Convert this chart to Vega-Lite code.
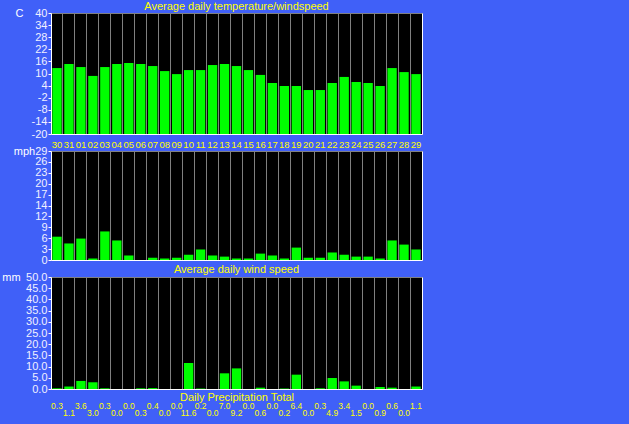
{
  "$schema": "https://vega.github.io/schema/vega-lite/v6.json",
  "background": "#4060F8",
  "autosize": {"type": "pad"},
  "padding": {"left": 1, "top": 0, "right": 207, "bottom": 8},
  "bounds": "flush",
  "spacing": 17,
  "datasets": {
    "w": [
      {"day": "30", "temp": 12.7, "wind": 6.2, "precip": 0.3},
      {"day": "31", "temp": 14.7, "wind": 4.4, "precip": 1.1},
      {"day": "01", "temp": 13.2, "wind": 5.7, "precip": 3.6},
      {"day": "02", "temp": 8.8, "wind": 0.4, "precip": 3.0},
      {"day": "03", "temp": 13.2, "wind": 7.6, "precip": 0.3},
      {"day": "04", "temp": 14.7, "wind": 5.2, "precip": 0.0},
      {"day": "05", "temp": 15.2, "wind": 1.2, "precip": 0.0},
      {"day": "06", "temp": 14.7, "wind": 0.0, "precip": 0.3},
      {"day": "07", "temp": 13.7, "wind": 0.6, "precip": 0.4},
      {"day": "08", "temp": 11.2, "wind": 0.4, "precip": 0.0},
      {"day": "09", "temp": 9.7, "wind": 0.6, "precip": 0.0},
      {"day": "10", "temp": 11.7, "wind": 1.4, "precip": 11.6},
      {"day": "11", "temp": 11.7, "wind": 2.8, "precip": 0.2},
      {"day": "12", "temp": 14.2, "wind": 1.2, "precip": 0.0},
      {"day": "13", "temp": 14.7, "wind": 0.9, "precip": 7.0},
      {"day": "14", "temp": 13.7, "wind": 0.4, "precip": 9.2},
      {"day": "15", "temp": 11.7, "wind": 0.4, "precip": 0.0},
      {"day": "16", "temp": 9.3, "wind": 1.7, "precip": 0.6},
      {"day": "17", "temp": 5.3, "wind": 1.2, "precip": 0.0},
      {"day": "18", "temp": 3.8, "wind": 0.4, "precip": 0.2},
      {"day": "19", "temp": 3.8, "wind": 3.3, "precip": 6.4},
      {"day": "20", "temp": 1.8, "wind": 0.6, "precip": 0.0},
      {"day": "21", "temp": 1.8, "wind": 0.6, "precip": 0.3},
      {"day": "22", "temp": 5.3, "wind": 2.0, "precip": 4.9},
      {"day": "23", "temp": 8.3, "wind": 1.4, "precip": 3.4},
      {"day": "24", "temp": 5.8, "wind": 0.9, "precip": 1.5},
      {"day": "25", "temp": 5.3, "wind": 0.9, "precip": 0.0},
      {"day": "26", "temp": 3.8, "wind": 0.4, "precip": 0.9},
      {"day": "27", "temp": 12.7, "wind": 5.2, "precip": 0.6},
      {"day": "28", "temp": 10.7, "wind": 4.1, "precip": 0.0},
      {"day": "29", "temp": 9.7, "wind": 2.8, "precip": 1.1}
    ]
  },
  "data": {"name": "w"},
  "config": {
    "view": {"fill": "#000000", "stroke": "#808080", "strokeWidth": 1},
    "axis": {
      "grid": false,
      "labelFont": "Liberation Sans",
      "titleFont": "Liberation Sans",
      "labelFontSize": 11,
      "titleFontSize": 11,
      "titleFontWeight": "normal",
      "labelColor": "#F0F0FF",
      "titleColor": "#FFFFFF",
      "labelOverlap": false,
      "domainColor": "#FFFFFF",
      "domainWidth": 1,
      "tickColor": "#FFFFFF",
      "gridColor": "#808080",
      "gridWidth": 1,
      "gridOpacity": 1
    },
    "title": {"font": "Liberation Sans", "fontSize": 11, "fontWeight": "normal", "color": "#FFFF00", "frame": "group"}
  },
  "vconcat": [
    {
      "width": 371,
      "height": 121,
      "title": {"text": "Average daily temperature/windspeed", "offset": -5},
      "resolve": {"axis": {"y": "independent"}},
      "layer": [
        {
          "mark": {"type": "bar", "fill": "#00FF00", "width": {"band": 0.78}},
          "encoding": {
            "x": {"field": "day", "type": "nominal", "sort": null,
                  "scale": {"paddingInner": 0, "paddingOuter": 0},
                  "axis": {"title": null, "labelAngle": 0, "ticks": false, "grid": true, "bandPosition": 0,
                           "labelColor": "#FFFF00", "labelFontSize": 9.5, "labelPadding": 5}},
            "y": {"field": "temp", "type": "quantitative",
                  "scale": {"domain": [-20, 40], "nice": false, "zero": false},
                  "axis": {"values": [-20, -14, -8, -2, 4, 10, 16, 22, 28, 34, 40], "labelExpr": "'' + datum.value", "tickSize": 3, "labelPadding": 1,
                           "title": "C", "titleAngle": 0, "titleX": -32, "titleY": 0, "titleAlign": "center", "titleBaseline": "middle"}},
            "y2": {"datum": -20}
          }
        },
        {
          "mark": {"type": "bar", "opacity": 0},
          "encoding": {
            "x": {"field": "day", "type": "nominal", "sort": null},
            "y": {"field": "temp", "type": "quantitative",
                  "axis": {"orient": "right", "labels": false, "ticks": false, "title": null}}
          }
        }
      ]
    },
    {
      "width": 371,
      "height": 109,
      "resolve": {"axis": {"y": "independent"}},
      "layer": [
        {
          "mark": {"type": "bar", "fill": "#00FF00", "width": {"band": 0.78}},
          "encoding": {
            "x": {"field": "day", "type": "nominal", "sort": null,
                  "scale": {"paddingInner": 0, "paddingOuter": 0},
                  "axis": {"title": null, "labels": false, "ticks": false, "grid": true, "bandPosition": 0}},
            "y": {"field": "wind", "type": "quantitative",
                  "scale": {"domain": [0, 29], "nice": false},
                  "axis": {"values": [0, 2.9, 5.8, 8.7, 11.6, 14.5, 17.4, 20.3, 23.2, 26.1, 29],
                           "labelExpr": "'' + floor(datum.value + 0.45)", "tickSize": 3, "labelPadding": 1,
                           "title": "mph", "titleAngle": 0, "titleX": -27, "titleY": 0, "titleAlign": "center", "titleBaseline": "middle"}}
          }
        },
        {
          "mark": {"type": "bar", "opacity": 0},
          "encoding": {
            "x": {"field": "day", "type": "nominal", "sort": null},
            "y": {"field": "wind", "type": "quantitative",
                  "axis": {"orient": "right", "labels": false, "ticks": false, "title": null}}
          }
        }
      ]
    },
    {
      "width": 371,
      "height": 112,
      "title": {"text": "Average daily wind speed", "offset": -4},
      "resolve": {"axis": {"y": "independent"}},
      "layer": [
        {
          "mark": {"type": "bar", "fill": "#00FF00", "width": {"band": 0.78}},
          "encoding": {
            "x": {"field": "day", "type": "nominal", "sort": null,
                  "scale": {"paddingInner": 0, "paddingOuter": 0},
                  "axis": {"title": "Daily Precipitation Total", "titleColor": "#FFFF00", "titlePadding": 2,
                           "labels": false, "ticks": false, "grid": true, "bandPosition": 0}},
            "y": {"field": "precip", "type": "quantitative",
                  "scale": {"domain": [0, 50], "nice": false},
                  "axis": {"values": [0, 5, 10, 15, 20, 25, 30, 35, 40, 45, 50], "format": ".1f", "tickSize": 3, "labelPadding": 1,
                           "title": "mm", "titleAngle": 0, "titleX": -40, "titleY": 0, "titleAlign": "center", "titleBaseline": "middle"}}
          }
        },
        {
          "mark": {"type": "bar", "opacity": 0},
          "encoding": {
            "x": {"field": "day", "type": "nominal", "sort": null},
            "y": {"field": "precip", "type": "quantitative",
                  "axis": {"orient": "right", "labels": false, "ticks": false, "title": null}}
          }
        },
        {
          "transform": [{"window": [{"op": "row_number", "as": "rn"}]}, {"filter": "datum.rn % 2 == 1"}],
          "mark": {"type": "text", "color": "#FFFF00", "font": "Liberation Sans", "fontSize": 8.5, "baseline": "middle", "dy": 17},
          "encoding": {
            "x": {"field": "day", "type": "nominal", "sort": null},
            "y": {"datum": 0, "type": "quantitative", "axis": null},
            "text": {"field": "precip", "type": "quantitative", "format": ".1f"}
          }
        },
        {
          "transform": [{"window": [{"op": "row_number", "as": "rn"}]}, {"filter": "datum.rn % 2 == 0"}],
          "mark": {"type": "text", "color": "#FFFF00", "font": "Liberation Sans", "fontSize": 8.5, "baseline": "middle", "dy": 24},
          "encoding": {
            "x": {"field": "day", "type": "nominal", "sort": null},
            "y": {"datum": 0, "type": "quantitative", "axis": null},
            "text": {"field": "precip", "type": "quantitative", "format": ".1f"}
          }
        }
      ]
    }
  ]
}
